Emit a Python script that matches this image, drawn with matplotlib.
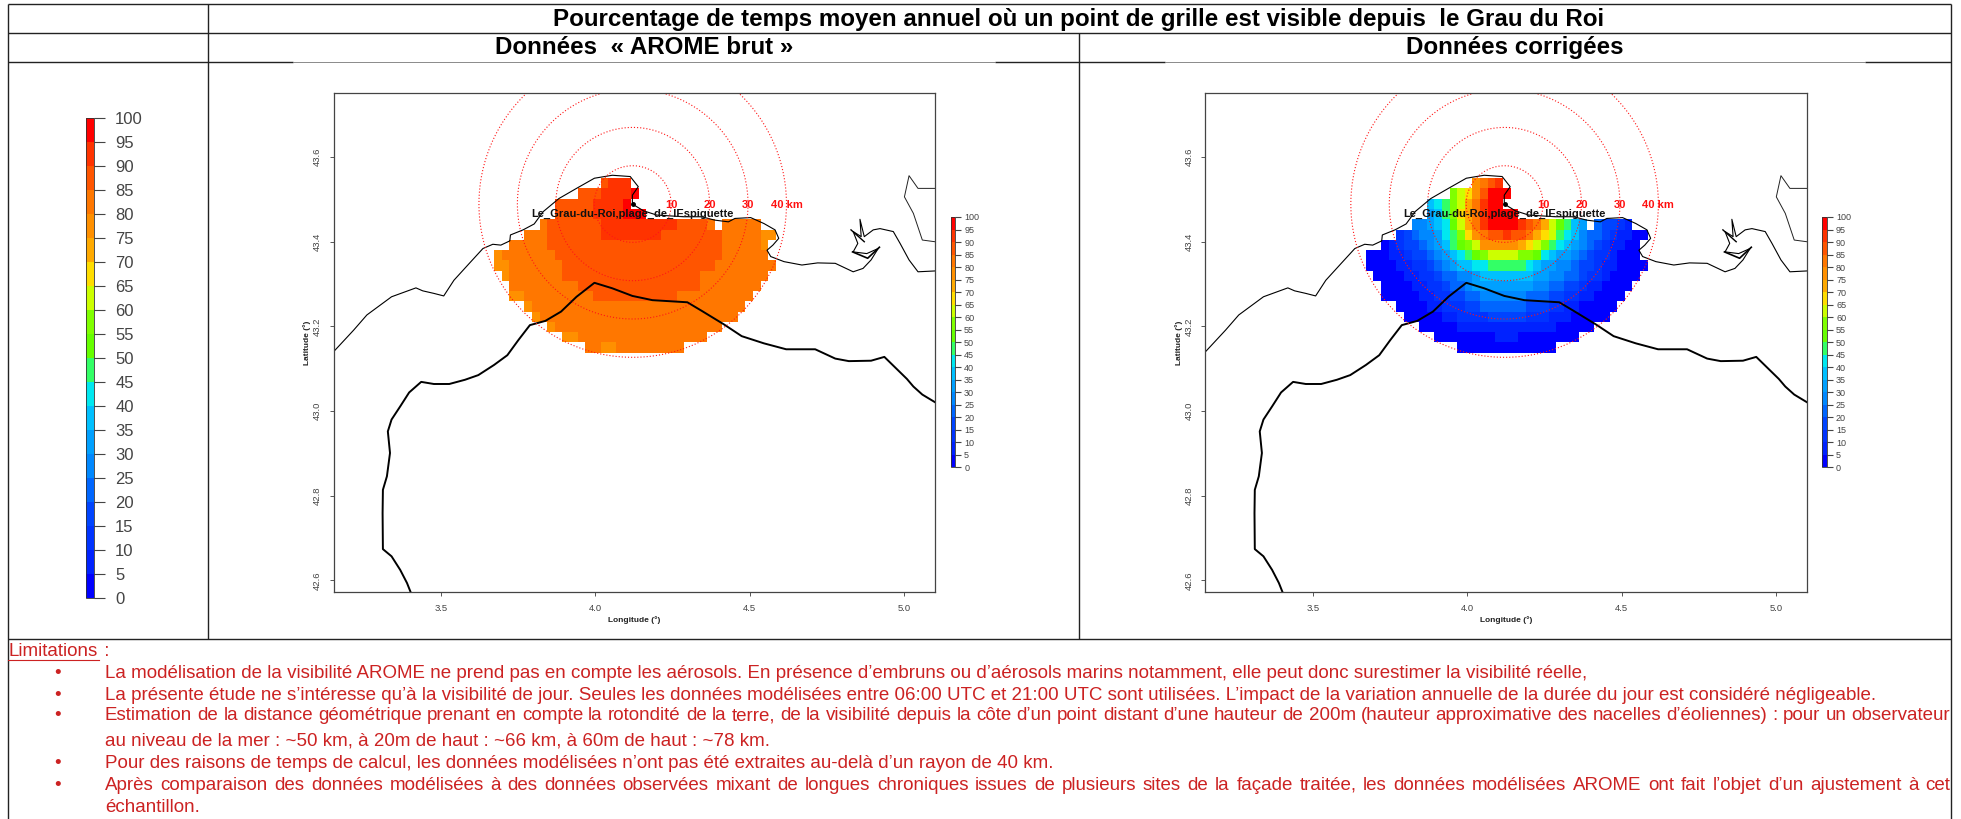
"""Annual visibility percentage maps from le Grau du Roi, with the limitations table below."""

import matplotlib
matplotlib.use("Agg")

import matplotlib.pyplot as plt
import numpy as np
from matplotlib.cm import ScalarMappable
from matplotlib.colors import BoundaryNorm, ListedColormap

plt.rcParams["font.family"] = ["Liberation Sans", "DejaVu Sans"]

W, H = 1961, 819
RED_TEXT = "#cc2222"

LEVELS = list(range(0, 105, 5))
CLASS_COLORS = [
    "#0000ff", "#0022ff", "#0033ff", "#0044ff", "#0066ff", "#0088ff", "#00a0ff",
    "#00c0ff", "#00e8f0", "#33ff66", "#66ff00", "#80ff00", "#ccff00", "#ffdd00",
    "#ffaa00", "#ff9000", "#ff7700", "#ff5500", "#ff3300", "#ff0000",
]

# first column of every grid row, top row first
ROW_START = [14, 11, 8, 8, 6, 4, 2, 0, 0, 1, 2, 2, 4, 5, 7, 9, 12]

BRUT_ROWS = [
    [87, 92, 92, 92],
    [87, 87, 87, 92, 92, 92, 92, 97],
    [87] * 5 + [92] * 4 + [97],
    [87] * 5 + [92] * 4 + [97] * 3,
    [82] + [87] * 7 + [92] * 10 + [87] * 4 + [82, None] + [82] * 5,
    [82] * 3 + [87] * 7 + [92] * 8 + [87] * 8 + [82] * 5 + [77] * 2,
    [82] * 5 + [87] * 23 + [82] * 5 + [77],
    [77] + [82] * 7 + [87] * 22 + [82] * 6,
    [77] * 2 + [82] * 7 + [87] * 20 + [82] * 8,
    [77] + [82] * 7 + [87] * 18 + [82] * 9,
    [82] * 9 + [87] * 16 + [82] * 8,
    [77] * 2 + [82] * 9 + [87] * 11 + [82] * 10,
    [77] + [82] * 28,
    [77] + [82] * 26,
    [77] + [82] * 22,
    [77] * 2 + [82] * 17,
    [82] * 2 + [77] * 2 + [82] * 9,
]

CORR_ROWS = [
    [77, 82, 87, 92],
    [57, 62, 67, 77, 87, 97, 97, 97],
    [37, 42, 47, 57, 62, 72, 82, 92, 97, 97],
    [32, 37, 47, 57, 67, 72, 82, 92, 97, 97, 97, 97],
    [27, 27, 32, 37, 42, 52, 62, 72, 82, 92, 97, 97, 97, 97, 92, 87, 82, 72, 62, 52, 47, 37, 32, None,
     22, 17, 17, 12, 7],
    [12, 17, 22, 27, 27, 32, 42, 47, 57, 67, 77, 82, 87, 87, 92, 87, 87, 82, 72, 67, 62, 47, 42, 37,
     27, 22, 22, 17, 12, 7, 7, 2, 2],
    [2, 7, 12, 17, 17, 22, 27, 32, 37, 47, 52, 57, 62, 77, 77, 77, 77, 77, 72, 67, 62, 57, 47, 42, 37,
     32, 27, 22, 17, 12, 7, 7, 2, 2],
    [2, 2, 2, 7, 7, 12, 17, 17, 22, 27, 32, 37, 42, 47, 52, 57, 62, 62, 62, 62, 57, 57, 52, 42, 37, 32,
     32, 27, 22, 17, 12, 12, 7, 2, 2, 2],
    [2, 2, 2, 2, 7, 7, 12, 12, 17, 22, 27, 32, 37, 37, 42, 42, 47, 47, 47, 47, 47, 42, 37, 32, 32, 27,
     27, 22, 17, 17, 12, 7, 7, 2, 2, 2, 2],
    [2, 2, 2, 2, 7, 7, 12, 12, 17, 22, 22, 27, 27, 32, 37, 37, 37, 37, 37, 37, 37, 32, 32, 27, 27, 22,
     22, 17, 12, 12, 7, 2, 2, 2, 2],
    [2, 2, 2, 2, 7, 7, 12, 12, 17, 22, 22, 27, 32, 32, 32, 32, 32, 32, 32, 32, 27, 27, 22, 22, 17, 17,
     12, 7, 7, 2, 2, 2, 2],
    [2, 2, 2, 2, 2, 7, 7, 12, 12, 17, 17, 22, 22, 27, 27, 27, 27, 27, 27, 22, 22, 22, 17, 17, 12, 12,
     7, 7, 2, 2, 2, 2],
    [2, 2, 2, 2, 7, 7, 12, 12, 12, 17, 17, 22, 22, 22, 22, 22, 22, 17, 17, 17, 12, 12, 7, 7, 2, 2, 2, 2, 2],
    [2, 2, 2, 2, 2, 7, 7, 12, 12, 12, 12, 17, 17, 17, 17, 17, 12, 12, 12, 7, 7, 7, 2, 2, 2, 2, 2],
    [2] * 5 + [7] * 13 + [2] * 5,
    [2] * 8 + [7] * 3 + [2] * 8,
    [2] * 13,
]

COAST_LON = [3.152, 3.217, 3.260, 3.340, 3.419, 3.441, 3.477, 3.509, 3.542, 3.592, 3.636, 3.668, 3.694,
             3.723, 3.725, 3.766, 3.802, 3.831, 3.882, 3.939, 3.997, 4.055, 4.113, 4.139, 4.120, 4.120,
             4.156, 4.199, 4.286, 4.344, 4.387, 4.431, 4.452, 4.503, 4.546, 4.582, 4.594, 4.575, 4.556,
             4.568, 4.611, 4.669, 4.720, 4.777, 4.835, 4.867, 4.893, 4.916, 4.879, 4.835, 4.850, 4.835,
             4.861, 4.857, 4.871, 4.900, 4.922, 4.965, 4.987, 5.016, 5.045, 5.100]
COAST_LAT = [43.140, 43.191, 43.227, 43.270, 43.291, 43.284, 43.278, 43.272, 43.309, 43.349, 43.384,
             43.394, 43.392, 43.402, 43.416, 43.428, 43.442, 43.471, 43.502, 43.526, 43.550, 43.557,
             43.554, 43.530, 43.510, 43.489, 43.473, 43.463, 43.459, 43.459, 43.451, 43.447, 43.455,
             43.457, 43.443, 43.428, 43.408, 43.392, 43.380, 43.365, 43.353, 43.345, 43.350, 43.349,
             43.329, 43.337, 43.357, 43.384, 43.372, 43.376, 43.396, 43.424, 43.412, 43.453, 43.412,
             43.428, 43.431, 43.424, 43.396, 43.357, 43.329, 43.331]

INLAND_LON = [5.100, 5.045, 5.016, 5.001, 5.030, 5.059, 5.100]
INLAND_LAT = [43.526, 43.526, 43.556, 43.506, 43.467, 43.404, 43.400]

POND_A_LON = [4.828, 4.871]
POND_A_LAT = [43.428, 43.400]
POND_B_LON = [4.833, 4.882, 4.920]
POND_B_LAT = [43.376, 43.361, 43.387]

THICK_LON = [5.100, 5.059, 5.030, 5.009, 4.936, 4.893, 4.821, 4.777, 4.712, 4.618, 4.546, 4.474, 4.416,
             4.344, 4.298, 4.185, 4.120, 4.055, 3.997, 3.939, 3.889, 3.838, 3.788, 3.751, 3.715, 3.672,
             3.621, 3.578, 3.527, 3.477, 3.436, 3.397, 3.368, 3.340, 3.328, 3.335, 3.325, 3.312, 3.311,
             3.312, 3.340, 3.368, 3.390, 3.402]
THICK_LAT = [43.021, 43.039, 43.058, 43.076, 43.128, 43.119, 43.118, 43.124, 43.146, 43.146, 43.160,
             43.177, 43.205, 43.237, 43.257, 43.262, 43.272, 43.290, 43.303, 43.270, 43.235, 43.213,
             43.203, 43.168, 43.132, 43.109, 43.085, 43.074, 43.064, 43.064, 43.069, 43.044, 43.011,
             42.980, 42.952, 42.901, 42.846, 42.814, 42.759, 42.674, 42.657, 42.625, 42.594, 42.572]

SITE_LON, SITE_LAT = 4.121, 43.489
SITE_NAME = "Le_Grau-du-Roi,plage_de_lEspiguette"
RADII_KM = [10, 20, 30, 40]
RADII_LABELS = ["10", "20", "30", "40 km"]
LON_TICKS = [3.5, 4.0, 4.5, 5.0]
LAT_TICKS = [42.6, 42.8, 43.0, 43.2, 43.4, 43.6]

TITLE = "Pourcentage de temps moyen annuel où un point de grille est visible depuis  le Grau du Roi"
PANEL_TITLES = ["Données  « AROME brut »", "Données corrigées"]

LIMITS = [
    ("La modélisation de la visibilité AROME ne prend pas en compte les aérosols. En présence d’embruns ou "
     "d’aérosols marins notamment, elle peut donc surestimer la visibilité réelle,", 673, True, False),
    ("La présente étude ne s’intéresse qu’à la visibilité de jour. Seules les données modélisées entre "
     "06:00 UTC et 21:00 UTC sont utilisées. L’impact de la variation annuelle de la durée du jour est "
     "considéré négligeable.", 696, True, False),
    ("Estimation de la distance géométrique prenant en compte la rotondité de la terre, de la visibilité "
     "depuis la côte d’un point distant d’une hauteur de 200m (hauteur approximative des nacelles "
     "d’éoliennes) : pour un observateur", 716, True, True),
    ("au niveau de la mer : ~50 km, à 20m de haut : ~66 km, à 60m de haut : ~78 km.", 741, False, False),
    ("Pour des raisons de temps de calcul, les données modélisées n’ont pas été extraites au-delà d’un "
     "rayon de 40 km.", 764, True, False),
    ("Après comparaison des données modélisées à des données observées mixant de longues chroniques issues "
     "de plusieurs sites de la façade traitée, les données modélisées AROME ont fait l’objet d’un "
     "ajustement à cet", 785, True, True),
    ("échantillon.", 807, False, False),
]

cmap = ListedColormap(CLASS_COLORS)
norm = BoundaryNorm(LEVELS, cmap.N)


def add_axes_px(fig, left, top, right, bottom):
    return fig.add_axes([left / W, 1 - bottom / H, (right - left) / W, (bottom - top) / H])


def rows_to_grid(rows):
    grid = np.full((len(rows), 37), np.nan)
    for i, (start, row) in enumerate(zip(ROW_START, rows)):
        grid[i, start:start + len(row)] = [np.nan if v is None else v for v in row]
    return grid


def draw_colorbar(fig, left, top, right, bottom, fontsize, ticklen, pad):
    cax = add_axes_px(fig, left, top, right, bottom)
    cbar = fig.colorbar(ScalarMappable(norm=norm, cmap=cmap), cax=cax, ticks=LEVELS)
    cbar.outline.set_linewidth(0.6)
    cbar.outline.set_edgecolor("#333333")
    cbar.ax.tick_params(length=ticklen, width=0.8, color="#444444", labelcolor="#444444",
                        labelsize=fontsize, pad=pad)


def draw_map(fig, left, rows):
    ax = add_axes_px(fig, left, 92.7, left + 601.8, 592.3)
    lon_edges = 3.6715 + 0.02467 * np.arange(38)
    lat_edges = 43.55 - 0.02424 * np.arange(18)
    ax.pcolormesh(lon_edges, lat_edges, rows_to_grid(rows), cmap=cmap, norm=norm)

    ax.plot(COAST_LON, COAST_LAT, color="black", lw=0.8, solid_joinstyle="round")
    ax.plot(INLAND_LON, INLAND_LAT, color="#222222", lw=0.7)
    ax.plot(POND_A_LON, POND_A_LAT, color="black", lw=1.0)
    ax.plot(POND_B_LON, POND_B_LAT, color="black", lw=1.2)
    ax.plot(THICK_LON, THICK_LAT, color="black", lw=1.4)
    ax.plot(SITE_LON, SITE_LAT, "o", color="black", ms=2.5)

    angle = np.linspace(0, 2 * np.pi, 361)
    for km, label in zip(RADII_KM, RADII_LABELS):
        r_lat = 0.00905 * km
        r_lon = 0.01245 * km
        ax.plot(SITE_LON + r_lon * np.cos(angle), SITE_LAT + r_lat * np.sin(angle),
                color="#ff1515", lw=0.8, ls=(0, (1, 1.8)))
        ax.text(SITE_LON + r_lon, SITE_LAT - 0.002, label, color="#ff1010", fontsize=8, fontweight="bold",
                ha="center", va="center")
    ax.text(SITE_LON, 43.465, SITE_NAME, color="#111111", fontsize=8, fontweight="bold",
            ha="center", va="center")

    ax.set_xlim(3.152, 5.101)
    ax.set_ylim(42.572, 43.752)
    ax.set_xticks(LON_TICKS, [f"{v:.1f}" for v in LON_TICKS])
    ax.set_yticks(LAT_TICKS, [f"{v:.1f}" for v in LAT_TICKS])
    ax.tick_params(length=3, width=0.7, color="#555555", labelcolor="#444444", labelsize=6.8, pad=5.5)
    plt.setp(ax.get_yticklabels(), rotation=90, va="center")
    for spine in ax.spines.values():
        spine.set_linewidth(0.9)
        spine.set_color("#444444")
    ax.set_xlabel("Longitude (°)", fontsize=6, fontweight="bold", color="#222222", labelpad=2.5)
    ax.set_ylabel("Latitude (°)", fontsize=6, fontweight="bold", color="#222222", labelpad=1.5, y=0.5)
    draw_colorbar(fig, left + 617, 217, left + 621.6, 467.3, 6.5, 4, 2.5)
    return ax


def draw_justified(page, renderer, text, x0, x1, y, **kw):
    words = text.split(" ")
    items = [page.text(x0, y, w, va="center", ha="left", **kw) for w in words]
    widths = [t.get_window_extent(renderer).width for t in items]
    gap = (x1 - x0 - sum(widths)) / (len(words) - 1)
    x = x0
    for item, width in zip(items, widths):
        item.set_x(x)
        x += width + gap


fig = plt.figure(figsize=(W / 100, H / 100), dpi=100)
page = fig.add_axes([0, 0, 1, 1])
page.set_xlim(0, W)
page.set_ylim(H, 0)
page.axis("off")

# table rules
line = dict(color="#222222", lw=1.0, solid_capstyle="butt")
page.plot([8, 1951], [4, 4], **line)
page.plot([8, 1951], [33, 33], **line)
page.plot([8, 293], [62, 62], **line)
page.plot([995, 1165], [62, 62], **line)
page.plot([1865, 1951], [62, 62], **line)
page.plot([293, 995], [62, 62], color="#777777", lw=0.6)
page.plot([1165, 1865], [62, 62], color="#777777", lw=0.6)
page.plot([8, 1951], [639, 639], **line)
page.plot([8, 8], [4, 819], **line)
page.plot([1951, 1951], [4, 819], **line)
page.plot([208, 208], [4, 639], **line)
page.plot([1079, 1079], [33, 639], **line)

page.text(1079, 19.5, TITLE, fontsize=17.35, fontweight="bold", color="black", ha="center", va="center")
page.text(644, 47.5, PANEL_TITLES[0], fontsize=17.35, fontweight="bold", color="black", ha="center", va="center")
page.text(1515, 47.5, PANEL_TITLES[1], fontsize=17.35, fontweight="bold", color="black", ha="center", va="center")

draw_map(fig, 333.5, BRUT_ROWS)
draw_map(fig, 1205.4, CORR_ROWS)
draw_colorbar(fig, 86, 117.7, 94.3, 598, 12, 8, 7)

renderer = fig.canvas.get_renderer()
text_style = dict(color=RED_TEXT, fontsize=13.47)
head = page.text(8, 652, "Limitations", va="center", ha="left", **text_style)
head_end = head.get_window_extent(renderer).x1
page.plot([8, head_end + 2], [660, 660], color=RED_TEXT, lw=0.8)
page.text(head_end + 2, 652, " :", va="center", ha="left", **text_style)
for text, y, bullet, justified in LIMITS:
    if bullet:
        page.text(58, y, "•", va="center", ha="center", **text_style)
    if justified:
        draw_justified(page, renderer, text, 105, 1950, y, **text_style)
    else:
        page.text(105, y, text, va="center", ha="left", **text_style)

fig.savefig("out.png", dpi=100)
